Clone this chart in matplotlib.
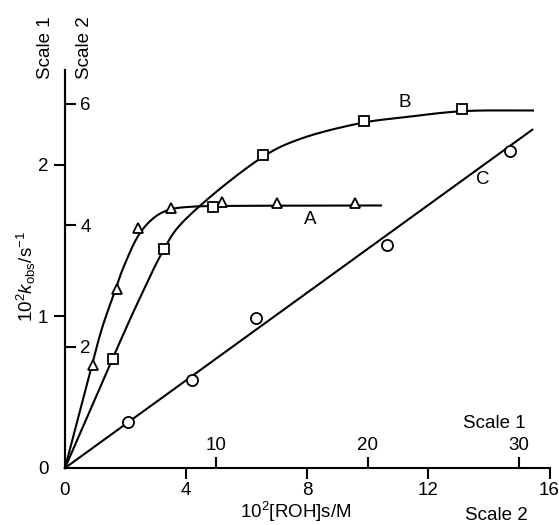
import numpy as np
import matplotlib
matplotlib.use("Agg")
import matplotlib.pyplot as plt

# ---------------- data ----------------
# Series A (triangles), Scale 2 units
a_x = [0.93, 1.71, 2.40, 3.50, 5.18, 7.01, 9.59]
a_y = [1.70, 2.95, 3.95, 4.29, 4.38, 4.36, 4.36]
# Series B (squares), Scale 2 units
b_x = [1.57, 3.26, 4.88, 6.54, 9.87, 13.10]
b_y = [1.80, 3.61, 4.31, 5.16, 5.72, 5.91]
# Series C (circles), Scale 1 units
c_x = [4.16, 8.40, 12.6, 21.3, 29.4]
c_y = [0.304, 0.577, 0.992, 1.469, 2.092]

# hand-drawn fitted curves
curve_a_x = [0.0, 0.803, 1.222, 1.661, 1.939, 2.477, 2.982, 3.468, 4.194,
             5.119, 10.436]
curve_a_y = [0.0, 1.533, 2.303, 2.934, 3.318, 3.873, 4.142, 4.261, 4.307,
             4.318, 4.327]
curve_b_x = [0.0, 1.575, 2.411, 3.253, 3.798, 6.549, 7.760, 9.875, 11.063,
             13.111, 15.456]
curve_b_y = [0.0, 1.808, 2.736, 3.593, 4.005, 5.134, 5.423, 5.695, 5.772,
             5.881, 5.893]
curve_c_x = [0.0, 30.86]
curve_c_y = [0.0, 2.23]

# axis ticks
x2_ticks = [0, 4, 8, 12, 16]
y2_ticks = [2, 4, 6]
x1_ticks = [10, 20, 30]
y1_ticks = [0, 1, 2]


def catmull_rom(px, py, sx=30.3, sy=60.6, n=60, alpha=0.5):
    """Centripetal Catmull-Rom curve through the points (in display-like units)."""
    P = np.column_stack([np.asarray(px, float) * sx, np.asarray(py, float) * sy])
    P = np.vstack([2 * P[0] - P[1], P, 2 * P[-1] - P[-2]])
    out = []
    for i in range(len(P) - 3):
        p0, p1, p2, p3 = P[i:i + 4]
        t0 = 0.0
        t1 = t0 + np.linalg.norm(p1 - p0) ** alpha
        t2 = t1 + np.linalg.norm(p2 - p1) ** alpha
        t3 = t2 + np.linalg.norm(p3 - p2) ** alpha
        t = np.linspace(t1, t2, n)[:, None]
        A1 = (t1 - t) / (t1 - t0) * p0 + (t - t0) / (t1 - t0) * p1
        A2 = (t2 - t) / (t2 - t1) * p1 + (t - t1) / (t2 - t1) * p2
        A3 = (t3 - t) / (t3 - t2) * p2 + (t - t2) / (t3 - t2) * p3
        B1 = (t2 - t) / (t2 - t0) * A1 + (t - t0) / (t2 - t0) * A2
        B2 = (t3 - t) / (t3 - t1) * A2 + (t - t1) / (t3 - t1) * A3
        C = (t2 - t) / (t2 - t1) * B1 + (t - t1) / (t2 - t1) * B2
        out.append(C)
    C = np.vstack(out)
    return C[:, 0] / sx, C[:, 1] / sy


FONT = ['Liberation Sans', 'DejaVu Sans']
plt.rcParams['font.family'] = FONT
plt.rcParams['mathtext.fontset'] = 'custom'
plt.rcParams['mathtext.rm'] = 'Liberation Sans'
plt.rcParams['mathtext.it'] = 'Liberation Sans:italic'
plt.rcParams['mathtext.bf'] = 'Liberation Sans:bold'
FS = 13.5
LW = 1.5

fig = plt.figure(figsize=(5.59, 5.25), dpi=100)
pos = [65 / 559, 57 / 525, 484.5 / 559, 398 / 525]
ax2 = fig.add_axes(pos)          # Scale 2
ax1 = fig.add_axes(pos)          # Scale 1
ax1.patch.set_visible(False)

ax2.set_xlim(0, 16)
ax2.set_ylim(0, 6.56)
ax1.set_xlim(0, 32)
ax1.set_ylim(0, 2.624)

# ---- ax2 spines / ticks ----
for s in ['left', 'top']:
    ax2.spines[s].set_visible(False)
ax2.spines['right'].set_position(('axes', 0))
ax2.spines['bottom'].set_linewidth(LW)
ax2.spines['right'].set_linewidth(LW)
ax2.yaxis.tick_right()
ax2.set_xticks(x2_ticks)
ax2.set_yticks(y2_ticks)
ax2.tick_params(axis='x', direction='out', length=8, width=LW, pad=2,
                labelsize=FS)
ax2.tick_params(axis='y', direction='out', length=8, width=LW, pad=3,
                labelsize=FS, right=True, labelright=True,
                left=False, labelleft=False)
ax2.xaxis.get_major_ticks()[0].tick1line.set_visible(False)

# ---- ax1 spines / ticks ----
for s in ['bottom', 'right', 'top']:
    ax1.spines[s].set_visible(False)
ax1.spines['top'].set_position(('axes', 0))
ax1.spines['left'].set_linewidth(LW)
ax1.xaxis.tick_top()
ax1.set_xticks(x1_ticks)
ax1.set_yticks(y1_ticks)
ax1.tick_params(axis='x', direction='out', length=8, width=LW, pad=2,
                labelsize=FS, top=True, labeltop=True,
                bottom=False, labelbottom=False)
ax1.tick_params(axis='y', direction='out', length=8, width=LW, pad=4,
                labelsize=FS)
ax1.yaxis.get_major_ticks()[0].tick1line.set_visible(False)

# ---- curves ----
xa, ya = catmull_rom(curve_a_x, curve_a_y)
ax2.plot(xa, ya, color='black', lw=LW, zorder=2, clip_on=False)
xb, yb = catmull_rom(curve_b_x, curve_b_y)
ax2.plot(xb, yb, color='black', lw=LW, zorder=2, clip_on=False)
ax1.plot(curve_c_x, curve_c_y, color='black', lw=LW, zorder=2,
         clip_on=False)

# ---- markers ----
ax2.plot(a_x, a_y, linestyle='none', marker='^', ms=6.5, mfc='white',
         mec='black', mew=1.3, zorder=3, clip_on=False)
ax2.plot(b_x, b_y, linestyle='none', marker='s', ms=7, mfc='white',
         mec='black', mew=1.3, zorder=3, clip_on=False)
ax1.plot(c_x, c_y, linestyle='none', marker='o', ms=8, mfc='white',
         mec='black', mew=1.3, zorder=3, clip_on=False)

# ---- curve letters ----
ax2.text(8.1, 4.09, 'A', fontsize=FS, ha='center', va='center')
ax2.text(11.23, 6.02, 'B', fontsize=FS, ha='center', va='center')
ax2.text(13.8, 4.76, 'C', fontsize=FS, ha='center', va='center')

# ---- axis titles ----
fig.text(296 / 559, 1 - 512 / 525, r'10$^{2}$[ROH]s/M', fontsize=FS,
         ha='center', va='center')
fig.text(26 / 559, 1 - 276 / 525, r'10$^{2}$$k_{\mathrm{obs}}$/s$^{-1}$',
         fontsize=FS, ha='center', va='center', rotation=90)

fig.text(45 / 559, 1 - 47.5 / 525, 'Scale 1', fontsize=FS, ha='center',
         va='center', rotation=90)
fig.text(84 / 559, 1 - 47.5 / 525, 'Scale 2', fontsize=FS, ha='center',
         va='center', rotation=90)
fig.text(494 / 559, 1 - 424 / 525, 'Scale 1', fontsize=FS, ha='center',
         va='center')
fig.text(496 / 559, 1 - 515 / 525, 'Scale 2', fontsize=FS, ha='center',
         va='center')

fig.savefig('out.png', dpi=100)
